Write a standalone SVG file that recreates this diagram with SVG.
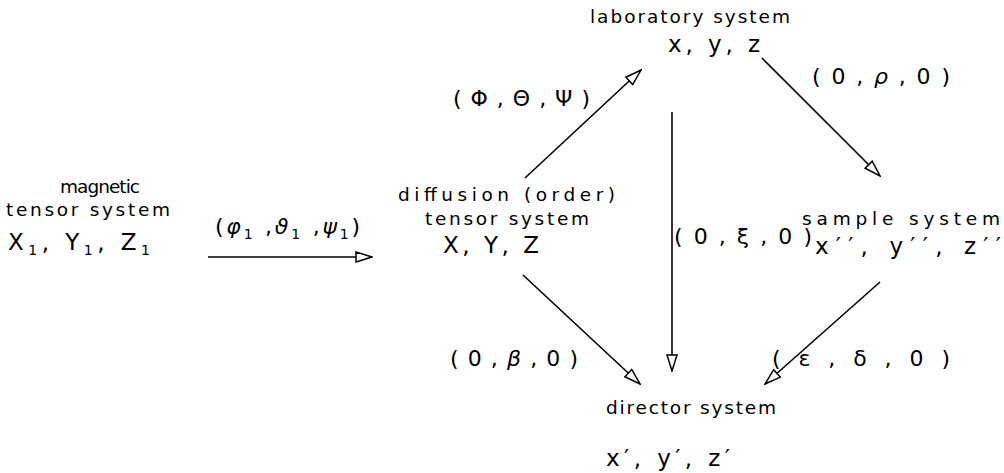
<svg xmlns="http://www.w3.org/2000/svg" width="1004" height="473" viewBox="0 0 1004 473">
  <style>
    text { font-family: "DejaVu Sans", "Liberation Sans", sans-serif; fill: #000; }
    .name { font-size: 18.5px; }
    .axes { font-size: 23px; }
    .rot { font-size: 22px; }
    .sub { font-size: 14px; }
    .edge { stroke: #000; stroke-width: 1.6; fill: none; }
  </style>
  <defs>
    <marker id="head" viewBox="0 0 18 12" refX="17" refY="6" markerWidth="18" markerHeight="12" markerUnits="userSpaceOnUse" orient="auto">
      <path d="M1,1 L17,6 L1,11 Z" fill="#fff" stroke="#000" stroke-width="1.5" stroke-linejoin="miter"/>
    </marker>
  </defs>

  <!-- coordinate systems -->
  <g id="magnetic">
    <text class="name" x="60" y="193" textLength="80" lengthAdjust="spacing">magnetic</text>
    <text class="name" x="6" y="216" textLength="164" lengthAdjust="spacing">tensor system</text>
    <text class="axes" x="8" y="250" textLength="142" lengthAdjust="spacing">X<tspan class="sub" dy="5">1</tspan><tspan dy="-5">, Y</tspan><tspan class="sub" dy="5">1</tspan><tspan dy="-5">, Z</tspan><tspan class="sub" dy="5">1</tspan></text>
  </g>

  <g id="diffusion">
    <text class="name" x="398" y="201" textLength="217" lengthAdjust="spacing">diffusion (order)</text>
    <text class="name" x="425" y="225" textLength="164" lengthAdjust="spacing">tensor system</text>
    <text class="axes" x="443" y="253" textLength="96" lengthAdjust="spacing">X, Y, Z</text>
  </g>

  <g id="laboratory">
    <text class="name" x="590" y="23" textLength="200" lengthAdjust="spacing">laboratory system</text>
    <text class="axes" x="668" y="52" textLength="92" lengthAdjust="spacing">x, y, z</text>
  </g>

  <g id="sample">
    <text class="name" x="802" y="225" textLength="198" lengthAdjust="spacing">sample system</text>
    <text class="axes" x="815" y="254" textLength="186" lengthAdjust="spacing">x′′, y′′, z′′</text>
  </g>

  <g id="director">
    <text class="name" x="606" y="414" textLength="170" lengthAdjust="spacing">director system</text>
    <text class="axes" x="606" y="466" textLength="124" lengthAdjust="spacing">x′, y′, z′</text>
  </g>

  <!-- transformations between the systems -->
  <g id="connectors">
    <line class="edge" x1="208" y1="257" x2="372" y2="257" marker-end="url(#head)"/>
    <line class="edge" x1="525" y1="178" x2="641" y2="70" marker-end="url(#head)"/>
    <line class="edge" x1="762" y1="58" x2="880" y2="176" marker-end="url(#head)"/>
    <line class="edge" x1="672" y1="112" x2="672" y2="371" marker-end="url(#head)" stroke-width="1.2"/>
    <line class="edge" x1="523" y1="275" x2="640" y2="384" marker-end="url(#head)"/>
    <line class="edge" x1="880" y1="282" x2="765" y2="384" marker-end="url(#head)"/>

    <text class="rot" x="215" y="234" textLength="145" lengthAdjust="spacing">(<tspan font-style="italic">φ</tspan><tspan class="sub" dy="5">1</tspan><tspan dy="-5"> ,</tspan><tspan font-style="italic">ϑ</tspan><tspan class="sub" dy="5">1</tspan><tspan dy="-5"> ,</tspan><tspan font-style="italic">ψ</tspan><tspan class="sub" dy="5">1</tspan><tspan dy="-5">)</tspan></text>
    <text class="rot" x="453" y="106" textLength="137" lengthAdjust="spacing">( Φ , Θ , Ψ )</text>
    <text class="rot" x="812" y="84" textLength="138" lengthAdjust="spacing">( 0 , <tspan font-style="italic">ρ</tspan> , 0 )</text>
    <text class="rot" x="674" y="244" textLength="138" lengthAdjust="spacing">( 0 , ξ , 0 )</text>
    <text class="rot" x="450" y="366" textLength="128" lengthAdjust="spacing">( 0 , <tspan font-style="italic">β</tspan> , 0 )</text>
    <text class="rot" x="772" y="366" textLength="178" lengthAdjust="spacing">( ε , δ , 0 )</text>
  </g>
</svg>
